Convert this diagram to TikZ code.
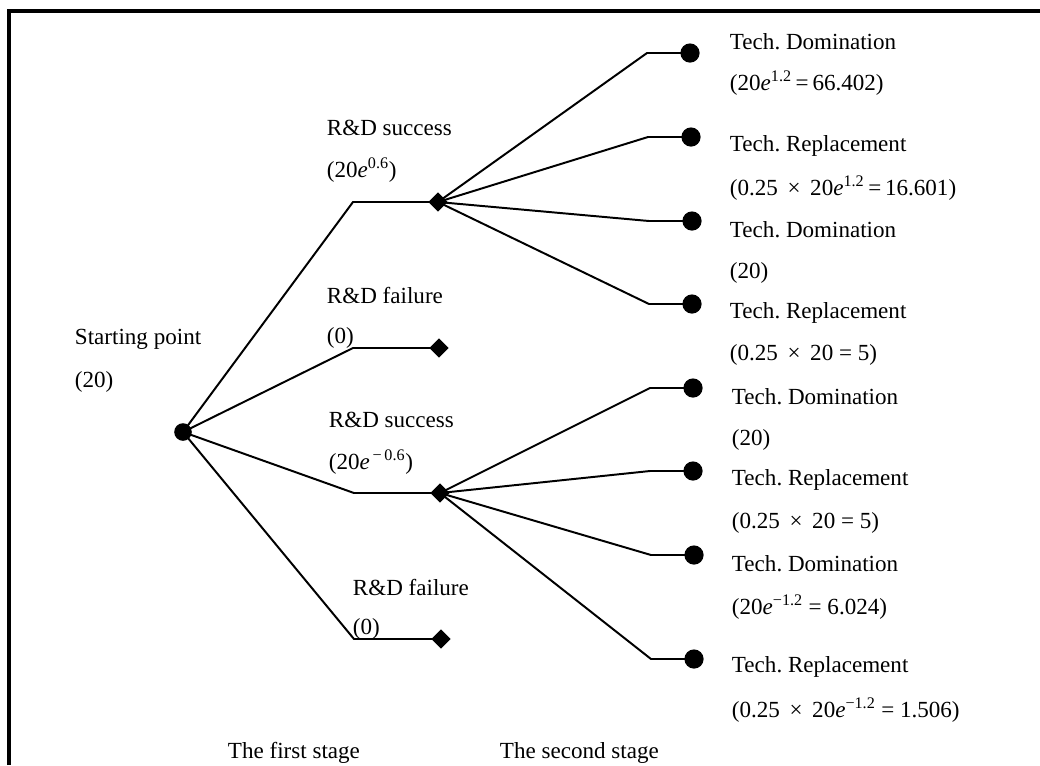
\documentclass[tikz,border=0pt]{standalone}
\usepackage{fontspec}
\setmainfont{Liberation Serif}
\usetikzlibrary{shapes.geometric}
\newcommand{\ex}[1]{\textit{e}\textsuperscript{#1}}
\frenchspacing

\begin{document}
\begin{tikzpicture}[x=0.025cm,y=-0.025cm,line width=1.4pt,
 font=\fontsize{16.4}{19}\selectfont,
 chance/.style={circle,fill=black,inner sep=0pt,minimum size=0.48cm},
 choice/.style={diamond,fill=black,inner sep=0pt,minimum size=0.5cm},
 lbl/.style={anchor=west,inner sep=0pt}]
\useasboundingbox (0,0) rectangle (1040,765);
\draw[line width=2.2pt] (9,765) -- (9,11) -- (1040,11);

% first stage
\node[chance,minimum size=0.44cm] (root) at (183,432) {};
\coordinate (k1) at (353,202); \node[choice] (s1) at (438,202) {};
\coordinate (k2) at (353,348); \node[choice] (f1) at (439,348) {};
\coordinate (k3) at (354,493); \node[choice] (s2) at (440,493) {};
\coordinate (k4) at (354,639); \node[choice] (f2) at (441,639) {};
\foreach \k/\d in {k1/s1,k2/f1,k3/s2,k4/f2}
  \draw (root.center) -- (\k) -- (\d.center);

\node[lbl] (st) at (74,339) {Starting point};
\node[lbl] (stv) at (74,382) {(20)};
\node[lbl] (a1) at (326,128) {R\&D success};
\node[lbl] (a1v) at (326,170) {(20\ex{0.6})};
\node[lbl] (b1) at (326,295) {R\&D failure};
\node[lbl] (b1v) at (326,338) {(0)};
\node[lbl] (a2) at (328,420) {R\&D success};
\node[lbl] (a2v) at (328,462) {(20\ex{\,−\,0.6})};
\node[lbl] (b2) at (352,587) {R\&D failure};
\node[lbl] (b2v) at (352,629) {(0)};

% second stage
\foreach \n/\y/\x/\d in {1/53/690/s1,2/137/691/s1,3/221/692/s1,4/304/692/s1,
  5/388/693/s2,6/471/693/s2,7/555/694/s2,8/659/694/s2}{
  \node[chance] (c\n) at (\x,\y) {};
  \draw (\d.center) -- (\x-43,\y) -- (c\n.center);
}

\node[lbl] (t1) at (729,42) {Tech. Domination};
\node[lbl] (t1v) at (729,83) {(20\ex{1.2}\,=\,66.402)};
\node[lbl] (t2) at (729,146) {Tech. Replacement};
\node[lbl] (t2v) at (729,188) {(0.25 \,×\, 20\ex{1.2}\,=\,16.601)};
\node[lbl] (t3) at (729,230) {Tech. Domination};
\node[lbl] (t3v) at (729,273) {(20)};
\node[lbl] (t4) at (729,313) {Tech. Replacement};
\node[lbl] (t4v) at (729,355) {(0.25 \,×\, 20 = 5)};
\node[lbl] (t5) at (731,397) {Tech. Domination};
\node[lbl] (t5v) at (731,440) {(20)};
\node[lbl] (t6) at (731,480) {Tech. Replacement};
\node[lbl] (t6v) at (731,523) {(0.25 \,×\, 20 = 5)};
\node[lbl] (t7) at (731,564) {Tech. Domination};
\node[lbl] (t7v) at (731,607) {(20\ex{−1.2} = 6.024)};
\node[lbl] (t8) at (731,667) {Tech. Replacement};
\node[lbl] (t8v) at (731,710) {(0.25 \,×\, 20\ex{−1.2} = 1.506)};

\node[lbl] (stage1) at (227,753) {The first stage};
\node[lbl] (stage2) at (499,753) {The second stage};
\end{tikzpicture}
\end{document}
